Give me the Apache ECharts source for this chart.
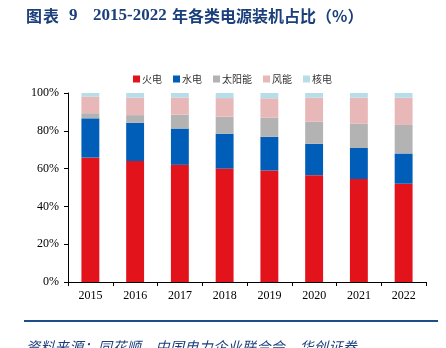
<!DOCTYPE html>
<html><head><meta charset="utf-8">
<script src="https://cdn.jsdelivr.net/npm/echarts@6/dist/echarts.min.js"></script>
<style>
html,body{margin:0;padding:0;background:#fff;}
#wrap{position:relative;width:446px;height:348px;overflow:hidden;}
.t{position:absolute;top:3px;font-weight:bold;font-size:16px;color:#1B3F7A;white-space:nowrap;line-height:24px;}
.cn{font-family:"Noto Sans CJK SC",sans-serif;}
.en{font-family:"Liberation Serif",serif;font-size:17px;}
#chart{position:absolute;left:0;top:0;width:446px;height:348px;}
#line{position:absolute;left:24px;top:320px;width:414px;height:2px;background:#1F4E86;}
#src{position:absolute;left:26px;top:336px;font-family:"Noto Sans CJK SC",sans-serif;font-size:14px;color:#1B3F7A;font-style:italic;white-space:nowrap;letter-spacing:0.4px;}
</style></head>
<body><div id="wrap">
<div id="chart"></div>
<div class="t cn" style="left:26px;letter-spacing:1px;">图表</div>
<div class="t en" style="left:69px;">9</div>
<div class="t en" style="left:93px;">2015-2022</div>
<div class="t cn" style="left:172px;letter-spacing:0px;">年各类电源装机占比</div>
<div class="t cn" style="left:316px;">（%）</div>
<div id="line"></div>
<div id="src">资料来源：同花顺，中国电力企业联合会，华创证券</div>
</div>
<script>
const categories = ['2015','2016','2017','2018','2019','2020','2021','2022'];
const seriesNames = ['火电','水电','太阳能','风能','核电'];
const thermal = [65.8, 64.0, 62.0, 60.0, 59.0, 56.5, 54.5, 52.0];
const hydro   = [20.8, 20.2, 19.2, 18.5, 17.8, 16.6, 16.4, 16.0];
const solar   = [2.7, 4.1, 7.4, 9.0, 10.1, 11.7, 12.8, 15.1];
const wind    = [8.7, 9.2, 9.0, 9.8, 10.3, 12.7, 13.8, 14.4];
const nuclear = [2.0, 2.5, 2.4, 2.7, 2.8, 2.5, 2.5, 2.5];
const yTicks = ['0%','20%','40%','60%','80%','100%'];
const colors = ['#E3131C','#005DB8','#B3B3B3','#E8B8B8','#B7DDE8'];

const dataSets = [thermal, hydro, solar, wind, nuclear];
const chart = echarts.init(document.getElementById('chart'), null, {renderer:'canvas'});
chart.setOption({
  animation:false,
  legend:{
    top:69, left:128, itemWidth:7, itemHeight:7, itemGap:11,
    icon:'rect',
    textStyle:{fontFamily:'"Noto Sans CJK SC",sans-serif', fontSize:10, color:'#333', padding:[0,0,0,-3]},
    data: seriesNames
  },
  grid:{left:68, right:20, top:93, bottom:66},
  xAxis:{
    type:'category', data:categories,
    axisLine:{lineStyle:{color:'#000', width:1}},
    axisTick:{show:true, alignWithLabel:false, length:4, lineStyle:{color:'#000'}},
    axisLabel:{fontFamily:'"Liberation Serif",serif', fontSize:12, color:'#000', margin:8}
  },
  yAxis:{
    type:'value', min:0, max:100, interval:20,
    axisLine:{show:true, lineStyle:{color:'#000', width:1}},
    axisTick:{show:true, inside:false, length:4, lineStyle:{color:'#000'}},
    splitLine:{show:false},
    axisLabel:{fontFamily:'"Liberation Serif",serif', fontSize:12, color:'#000', margin:9,
      formatter:function(v){ return yTicks[Math.round(v/20)]; }}
  },
  series: seriesNames.map((n,i)=>({
    name:n, type:'bar', stack:'total', data:dataSets[i], barWidth:'40%',
    itemStyle:{color:colors[i]}
  }))
});
</script>
</body></html>
